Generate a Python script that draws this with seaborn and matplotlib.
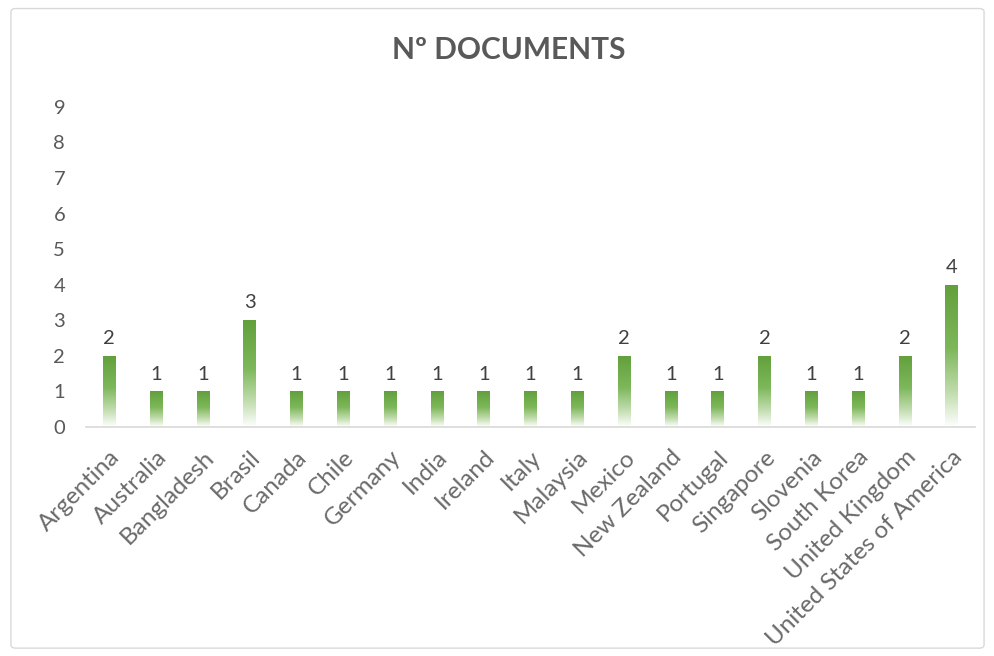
import numpy as np
import pandas as pd
import matplotlib
matplotlib.use("Agg")
import matplotlib.pyplot as plt
import seaborn as sns
from matplotlib.colors import LinearSegmentedColormap
from matplotlib.patches import FancyBboxPatch

countries = ["Argentina", "Australia", "Bangladesh", "Brasil", "Canada", "Chile",
             "Germany", "India", "Ireland", "Italy", "Malaysia", "Mexico",
             "New Zealand", "Portugal", "Singapore", "Slovenia", "South Korea",
             "United Kingdom", "United States of America"]
documents = [2, 1, 1, 3, 1, 1, 1, 1, 1, 1, 1, 2, 1, 1, 2, 1, 1, 2, 4]
y_ticks = list(range(0, 10))
title = "Nº DOCUMENTS"

sns.set_theme(style="white")
plt.rcParams["font.family"] = ["Lato", "DejaVu Sans"]

df = pd.DataFrame({"country": countries, "documents": documents})

fig = plt.figure(figsize=(9.95, 6.56), dpi=100)
ax = fig.add_axes([0.0864, 0.349, 0.8936, 0.488])

sns.barplot(data=df, x="country", y="documents", ax=ax, width=0.27,
            color="#70AD47", saturation=1, errorbar=None)

# green-to-white vertical gradient on each bar
grad_cmap = LinearSegmentedColormap.from_list(
    "bar_fade", [(0.0, "#ffffff"), (0.22, "#c6dfb4"), (0.55, "#7db75a"), (1.0, "#62a03c")])
grad = np.linspace(0, 1, 256).reshape(-1, 1)
for patch in ax.patches:
    x0, y0 = patch.get_x(), patch.get_y()
    w, h = patch.get_width(), patch.get_height()
    patch.set_facecolor("none")
    patch.set_edgecolor("none")
    im = ax.imshow(grad, cmap=grad_cmap, aspect="auto", origin="lower",
                   extent=(x0, x0 + w, y0, y0 + h), zorder=2, interpolation="bilinear")
    im.set_clip_path(patch)

for i, v in enumerate(documents):
    ax.text(i, v + 0.25, str(v), ha="center", va="bottom", fontsize=14.5, color="#404040")

ax.set_xlim(-0.5, len(countries) - 0.5)
ax.set_ylim(0, 9)
ax.set_yticks(y_ticks)
ax.set_yticklabels([str(t) for t in y_ticks], fontsize=14.5, color="#595959")
ax.set_xticks(range(len(countries)))
ax.set_xticklabels(countries, rotation=45, ha="right", rotation_mode="anchor",
                   fontsize=17.5, color="#6a6a6a")
ax.tick_params(axis="both", length=0)
ax.tick_params(axis="y", pad=15)
ax.tick_params(axis="x", pad=14)
ax.set_xlabel("")
ax.set_ylabel("")
for side in ["left", "right", "top"]:
    ax.spines[side].set_visible(False)
ax.spines["bottom"].set_color("#d9d9d9")
ax.spines["bottom"].set_linewidth(1.2)

fig.text(0.511, 0.924, title, ha="center", va="center", fontsize=21.5,
         fontweight="bold", color="#595959")

border = FancyBboxPatch((0.011, 0.012), 0.978, 0.975, boxstyle="round,pad=0,rounding_size=0.005",
                        transform=fig.transFigure, facecolor="none", edgecolor="#d9d9d9",
                        linewidth=1.0)
fig.patches.append(border)

fig.savefig("out.png", dpi=100)
